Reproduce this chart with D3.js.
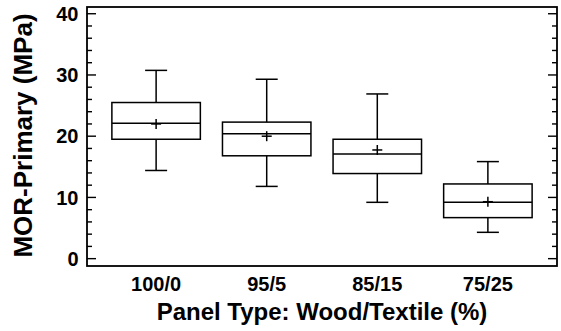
<!DOCTYPE html>
<html>
<head>
<meta charset="utf-8">
<script src="https://cdn.jsdelivr.net/npm/d3@7/dist/d3.min.js"></script>
<style>
html,body{margin:0;padding:0;background:#fff;}
text{font-family:"Liberation Sans",Arial,Helvetica,sans-serif;font-weight:bold;fill:#000;}
</style>
</head>
<body>
<svg id="chart" width="561" height="331"></svg>
<script>
const categories = ["100/0", "95/5", "85/15", "75/25"];
const whiskerLow  = [14.4, 11.8, 9.2, 4.3];
const q1          = [19.5, 16.8, 13.9, 6.7];
const median      = [22.1, 20.4, 17.1, 9.2];
const q3          = [25.5, 22.3, 19.5, 12.2];
const whiskerHigh = [30.75, 29.3, 26.9, 15.85];
const mean        = [22.0, 20.0, 17.75, 9.3];
const yTicks = [0, 10, 20, 30, 40];
const yMinorTicks = d3.range(0, 41, 2);

const svg = d3.select("#chart");
const L = 87, R = 557, T = 7, B = 266;
const x = d3.scalePoint().domain(categories).range([L, R]).padding(0.625);
const y = d3.scaleLinear().domain([-1.2, 41.1]).range([B, T]);
const step = x.step();
const boxW = step * 0.8;
const capW = 22;
const crossW = 10, crossH = 10;

const g = svg.append("g");
// frame
g.append("rect").attr("x", L).attr("y", T).attr("width", R - L).attr("height", B - T)
  .attr("fill", "none").attr("stroke", "#000").attr("stroke-width", 1.8);

// ticks left and right (inside)
yMinorTicks.forEach(v => {
  const major = v % 10 === 0;
  const len = major ? 9 : 5;
  g.append("line").attr("x1", L).attr("x2", L + len).attr("y1", y(v)).attr("y2", y(v))
    .attr("stroke", "#000").attr("stroke-width", 1.4);
  g.append("line").attr("x1", R).attr("x2", R - len).attr("y1", y(v)).attr("y2", y(v))
    .attr("stroke", "#000").attr("stroke-width", 1.4);
});
// y tick labels
g.selectAll(".ylab").data(yTicks).enter().append("text")
  .attr("x", L - 8.5).attr("y", d => y(d)).attr("dy", "0.36em")
  .attr("text-anchor", "end").style("font-size", "20px").text(d => d);

// x tick labels
g.selectAll(".xlab").data(categories).enter().append("text")
  .attr("x", d => x(d)).attr("y", 291).attr("text-anchor", "middle")
  .style("font-size", "20px").text(d => d);

// boxes
categories.forEach((c, i) => {
  const cx = x(c);
  const line = (x1, y1, x2, y2) => g.append("line").attr("x1", x1).attr("y1", y1).attr("x2", x2).attr("y2", y2)
    .attr("stroke", "#000").attr("stroke-width", 1.5);
  // whiskers
  line(cx, y(whiskerHigh[i]), cx, y(q3[i]));
  line(cx, y(q1[i]), cx, y(whiskerLow[i]));
  line(cx - capW / 2, y(whiskerHigh[i]), cx + capW / 2, y(whiskerHigh[i]));
  line(cx - capW / 2, y(whiskerLow[i]), cx + capW / 2, y(whiskerLow[i]));
  // box
  g.append("rect").attr("x", cx - boxW / 2).attr("y", y(q3[i])).attr("width", boxW)
    .attr("height", y(q1[i]) - y(q3[i])).attr("fill", "none").attr("stroke", "#000").attr("stroke-width", 1.5);
  line(cx - boxW / 2, y(median[i]), cx + boxW / 2, y(median[i]));
  // mean cross
  line(cx - crossW / 2, y(mean[i]), cx + crossW / 2, y(mean[i]));
  line(cx, y(mean[i]) - crossH / 2, cx, y(mean[i]) + crossH / 2);
});

// axis titles
svg.append("text").attr("x", (L + R) / 2).attr("y", 320).attr("text-anchor", "middle")
  .style("font-size", "24px").text("Panel Type: Wood/Textile (%)");
svg.append("text").attr("transform", "translate(31.5,135.5) rotate(-90)")
  .attr("text-anchor", "middle").style("font-size", "26px").text("MOR-Primary (MPa)");
</script>
</body>
</html>
